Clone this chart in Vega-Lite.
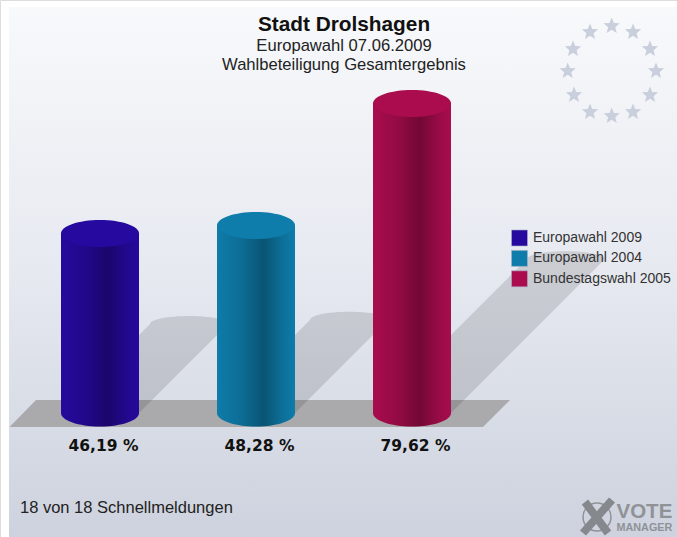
{
"$schema":"https://vega.github.io/schema/vega-lite/v6.json",
"width":677,"height":537,"padding":0,
"autosize":{"type":"fit","contains":"padding"},
"background":"#ffffff",
"datasets":{"decor":[{"item":"decor"}]},
"data":{"values":[
{"election":"Europawahl 2009","value":46.19,"label":"46,19 %"},
{"election":"Europawahl 2004","value":48.28,"label":"48,28 %"},
{"election":"Bundestagswahl 2005","value":79.62,"label":"79,62 %"}
]},
"title":{"text":"Stadt Drolshagen","subtitle":["Europawahl 07.06.2009","Wahlbeteiligung Gesamtergebnis"],"frame":"group","anchor":"middle","dx":5.5,"offset":-75,"font":"Liberation Sans","fontSize":20.8,"fontWeight":"bold","color":"#111111","subtitleFont":"Liberation Sans","subtitleFontSize":16.6,"subtitleColor":"#222222","subtitlePadding":3,"subtitleLineHeight":19},
"encoding":{
"x":{"field":"election","type":"nominal","axis":null,"sort":null,"scale":{"type":"band","domain":["Europawahl 2009","Europawahl 2004","Bundestagswahl 2005"],"range":[22,490],"paddingInner":0,"paddingOuter":0}}
},
"layer":[
{"data":{"name":"decor"},"encoding":{"x":null},
 "mark":{"type":"point","size":4,"filled":true,"opacity":1,"strokeWidth":0,"shape":"M-329.5 -261.5L338.5 -261.5L338.5 268.5L-329.5 268.5Z","fill":{"gradient":"linear","x1":0,"y1":0,"x2":0,"y2":1,"stops":[{"offset":0,"color":"#f8f9fb"},{"offset":0.5,"color":"#e6e9f0"},{"offset":1,"color":"#cdd2de"}]}}},
{"data":{"name":"decor"},"encoding":{"x":null},
 "mark":{"type":"point","size":4,"filled":true,"opacity":1,"strokeWidth":0,"fill":"#c9cfdc","shape":"M273.2 -251l2.23 5.43 5.85 0.44 -4.47 3.8 1.39 5.71 -5 -3.08 -5 3.08 1.39 -5.71 -4.47 -3.8 5.85 -0.44zM294.5 -245l2.23 5.43 5.85 0.44 -4.47 3.8 1.39 5.71 -5 -3.08 -5 3.08 1.39 -5.71 -4.47 -3.8 5.85 -0.44zM311.5 -228l2.23 5.43 5.85 0.44 -4.47 3.8 1.39 5.71 -5 -3.08 -5 3.08 1.39 -5.71 -4.47 -3.8 5.85 -0.44zM317.5 -206l2.23 5.43 5.85 0.44 -4.47 3.8 1.39 5.71 -5 -3.08 -5 3.08 1.39 -5.71 -4.47 -3.8 5.85 -0.44zM311.5 -182l2.23 5.43 5.85 0.44 -4.47 3.8 1.39 5.71 -5 -3.08 -5 3.08 1.39 -5.71 -4.47 -3.8 5.85 -0.44zM294.5 -165l2.23 5.43 5.85 0.44 -4.47 3.8 1.39 5.71 -5 -3.08 -5 3.08 1.39 -5.71 -4.47 -3.8 5.85 -0.44zM273.2 -161l2.23 5.43 5.85 0.44 -4.47 3.8 1.39 5.71 -5 -3.08 -5 3.08 1.39 -5.71 -4.47 -3.8 5.85 -0.44zM251.5 -165l2.23 5.43 5.85 0.44 -4.47 3.8 1.39 5.71 -5 -3.08 -5 3.08 1.39 -5.71 -4.47 -3.8 5.85 -0.44zM235.5 -182l2.23 5.43 5.85 0.44 -4.47 3.8 1.39 5.71 -5 -3.08 -5 3.08 1.39 -5.71 -4.47 -3.8 5.85 -0.44zM229.2 -206l2.23 5.43 5.85 0.44 -4.47 3.8 1.39 5.71 -5 -3.08 -5 3.08 1.39 -5.71 -4.47 -3.8 5.85 -0.44zM234.5 -228l2.23 5.43 5.85 0.44 -4.47 3.8 1.39 5.71 -5 -3.08 -5 3.08 1.39 -5.71 -4.47 -3.8 5.85 -0.44zM251.5 -245l2.23 5.43 5.85 0.44 -4.47 3.8 1.39 5.71 -5 -3.08 -5 3.08 1.39 -5.71 -4.47 -3.8 5.85 -0.44z"}},
{"data":{"name":"decor"},"encoding":{"x":null},
 "mark":{"type":"point","size":4,"filled":true,"opacity":1,"strokeWidth":0,"fill":"#aaaaad","shape":"M-329 158.5L-302.5 131.5L171.5 131.5L144.5 158.5Z"}},
{"mark":{"type":"point","size":4,"filled":true,"opacity":1,"strokeWidth":0,"fill":"#000000","fillOpacity":0.12},
 "encoding":{"y":{"datum":0,"type":"quantitative","scale":{"domain":[-31.91,106.28],"nice":false,"zero":false},"axis":null},
 "shape":{"field":"election","type":"nominal","legend":null,"scale":{"domain":["Europawahl 2004","Europawahl 2009","Bundestagswahl 2005"],"range":["M-39 0L54.2 -93.2A39 8 0 0 1 132.2 -93.2L39 0Z","M-39 0L50.1 -89.1A39 8 0 0 1 128.1 -89.1L39 0Z","M-39 0L114.7 -153.7A39 8 0 0 1 192.7 -153.7L39 0Z"]}}}},
{"mark":{"type":"bar","width":78},
 "encoding":{"y":{"field":"value","type":"quantitative","stack":null,"axis":null},
 "color":{"field":"election","type":"nominal","sort":null,"scale":{"domain":["Europawahl 2009","Europawahl 2004","Bundestagswahl 2005"],"range":["#26099f","#0e7dab","#aa0c4e"]},
 "legend":{"orient":"none","legendX":511,"legendY":229.5,"title":null,"padding":0,"symbolType":"square","symbolSize":256,"symbolStrokeColor":"#a9b0c8","symbolStrokeWidth":0.6,"symbolOpacity":1,"rowPadding":1.4,"labelFont":"Liberation Sans","labelFontSize":14,"labelColor":"#333333","labelOffset":5}}}},
{"mark":{"type":"point","size":4,"filled":true,"opacity":1,"strokeWidth":0,"shape":"M-39 0A39 13.5 0 0 0 39 0Z"},
 "encoding":{"y":{"datum":0,"type":"quantitative"},"color":{"field":"election","type":"nominal"}}},
{"mark":{"type":"bar","width":78,"fill":{"gradient":"linear","x1":0,"y1":0,"x2":1,"y2":0,"stops":[{"offset":0,"color":"rgba(0,0,0,0.01)"},{"offset":0.3,"color":"rgba(0,0,0,0.12)"},{"offset":0.6,"color":"rgba(0,0,0,0.33)"},{"offset":0.85,"color":"rgba(0,0,0,0.1)"},{"offset":1,"color":"rgba(0,0,0,0.01)"}]}},
 "encoding":{"y":{"field":"value","type":"quantitative","stack":null}}},
{"mark":{"type":"point","size":4,"filled":true,"opacity":1,"strokeWidth":0,"shape":"M-39 0A39 13.5 0 0 0 39 0Z","fill":{"gradient":"linear","x1":0,"y1":0,"x2":1,"y2":0,"stops":[{"offset":0,"color":"rgba(0,0,0,0.01)"},{"offset":0.3,"color":"rgba(0,0,0,0.12)"},{"offset":0.6,"color":"rgba(0,0,0,0.33)"},{"offset":0.85,"color":"rgba(0,0,0,0.1)"},{"offset":1,"color":"rgba(0,0,0,0.01)"}]}},
 "encoding":{"y":{"datum":0,"type":"quantitative"}}},
{"mark":{"type":"point","size":4,"filled":true,"opacity":1,"strokeWidth":0,"shape":"M-39 0A39 13.5 0 1 1 39 0A39 13.5 0 1 1 -39 0Z"},
 "encoding":{"y":{"field":"value","type":"quantitative"},"color":{"field":"election","type":"nominal"}}},
{"mark":{"type":"text","font":"DejaVu Sans","fontWeight":"bold","fontSize":15.5,"color":"#111111","dx":3.5,"dy":33,"align":"center","baseline":"middle"},
 "encoding":{"y":{"datum":0,"type":"quantitative"},"text":{"field":"label","type":"nominal"}}},
{"data":{"name":"decor"},"encoding":{"x":null},
 "mark":{"type":"text","text":"18 von 18 Schnellmeldungen","font":"Liberation Sans","fontSize":16.5,"color":"#222222","align":"left","baseline":"middle","dx":-318.5,"dy":239.5}},
{"data":{"name":"decor"},"encoding":{"x":null},
 "mark":{"type":"point","size":4,"filled":false,"opacity":1,"stroke":"#8f9296","strokeWidth":1.5,"shape":"M244.5 248.5A14 14 0 1 1 272.5 248.5A14 14 0 1 1 244.5 248.5Z"}},
{"data":{"name":"decor"},"encoding":{"x":null},
 "mark":{"type":"point","size":4,"filled":true,"opacity":1,"strokeWidth":0,"fill":"#85888c","shape":"M249.7 231.1L272.7 262.1L266.3 266.9L243.3 235.9ZM276.5 234.1L247.5 267.1L241.5 261.9L270.5 228.9Z"}},
{"data":{"name":"decor"},"encoding":{"x":null},
 "mark":{"type":"text","text":"VOTE","font":"Liberation Sans","fontWeight":"bold","fontSize":20.5,"color":"#8f9296","align":"left","baseline":"middle","dx":278,"dy":243}},
{"data":{"name":"decor"},"encoding":{"x":null},
 "mark":{"type":"text","text":"MANAGER","font":"Liberation Sans","fontWeight":"bold","fontSize":10.8,"color":"#8f9296","align":"left","baseline":"middle","dx":278,"dy":259}}
]
}
